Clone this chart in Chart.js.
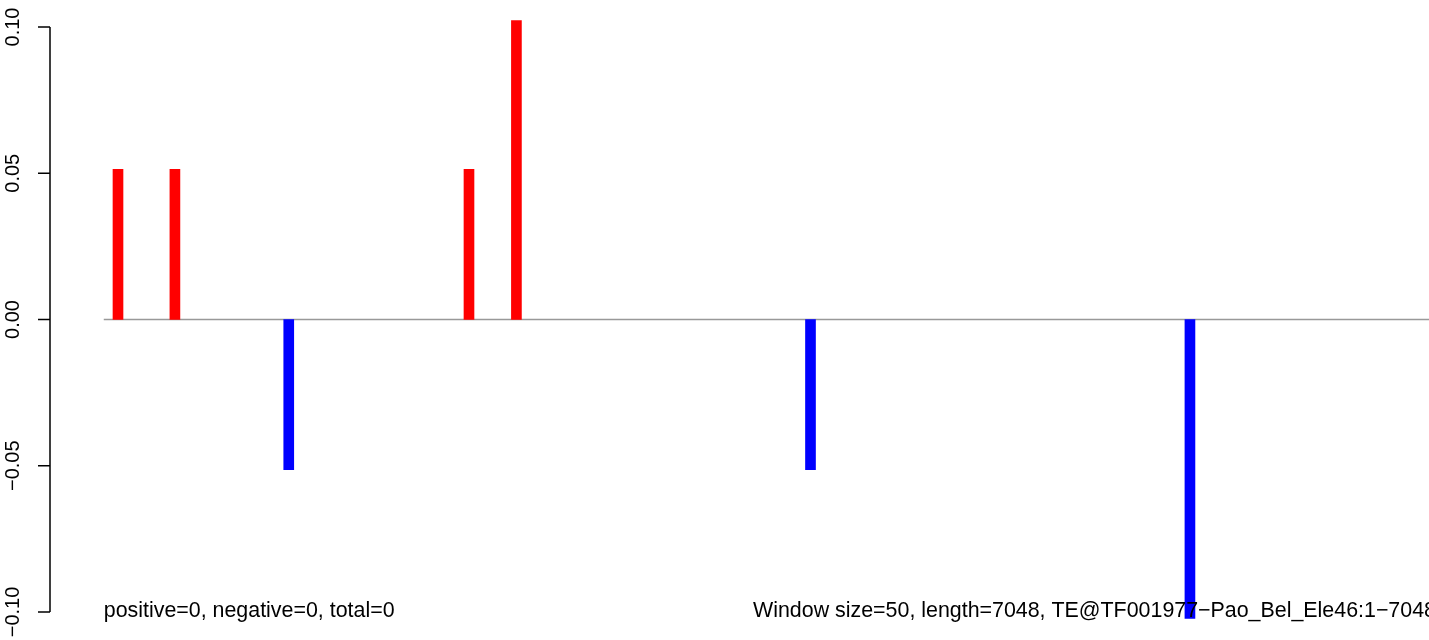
<!DOCTYPE html>
<html>
<head>
<meta charset="utf-8">
<script src="https://cdn.jsdelivr.net/npm/chart.js@4.4.1/dist/chart.umd.min.js"></script>
<style>
  html, body { margin: 0; padding: 0; background: #fff; }
  #wrap { width: 1429px; height: 640px; }
</style>
</head>
<body>
<div id="wrap"><canvas id="chart" width="1429" height="640"></canvas></div>
<script>
// window centres (bp) and values
const posX = [75, 375, 1925, 2175];
const posY = [0.0513, 0.0513, 0.0513, 0.1022];
const negX = [975, 3725, 5725];
const negY = [-0.0513, -0.0513, -0.1022];

const seqLength = 7048;
const yTickValues = [-0.1, -0.05, 0, 0.05, 0.1];
const yTickLabels = ['\u22120.10', '\u22120.05', '0.00', '0.05', '0.10'];

const leftNote = 'positive=0, negative=0, total=0';
const rightNote = 'Window size=50, length=7048, TE@TF001977\u2212Pao_Bel_Ele46:1\u22127048';

const FONT = '"Liberation Sans", Arial, Helvetica, sans-serif';

const rAxis = {
  id: 'rAxis',
  afterDraw(chart) {
    let ctx = chart.ctx;
    let xs = chart.scales.x;
    let ys = chart.scales.y;
    let axX = chart.chartArea.left;
    let top = ys.getPixelForValue(yTickValues[yTickValues.length - 1]);
    let bot = ys.getPixelForValue(yTickValues[0]);
    ctx.save();
    ctx.strokeStyle = '#000';
    ctx.lineWidth = 1.5;
    ctx.beginPath();
    ctx.moveTo(axX, top);
    ctx.lineTo(axX, bot);
    yTickValues.forEach(v => {
      let py = ys.getPixelForValue(v);
      ctx.moveTo(axX - 12, py);
      ctx.lineTo(axX, py);
    });
    ctx.stroke();

    ctx.fillStyle = '#000';
    ctx.font = '20px ' + FONT;
    ctx.textAlign = 'center';
    ctx.textBaseline = 'middle';
    yTickValues.forEach((v, i) => {
      let py = ys.getPixelForValue(v);
      ctx.save();
      ctx.translate(13, py);
      ctx.rotate(-Math.PI / 2);
      ctx.fillText(yTickLabels[i], 0, 0);
      ctx.restore();
    });

    // notes along the bottom, placed at the sequence ends
    ctx.font = '21.4px ' + FONT;
    ctx.textBaseline = 'alphabetic';
    ctx.textAlign = 'left';
    ctx.fillText(leftNote, xs.getPixelForValue(0), 617);
    ctx.textAlign = 'right';
    ctx.fillText(rightNote, xs.getPixelForValue(seqLength) - 5, 617);
    ctx.restore();
  }
};

new Chart(document.getElementById('chart'), {
  type: 'bar',
  data: {
    datasets: [
      {
        type: 'line',
        data: [{ x: 0, y: 0 }, { x: seqLength, y: 0 }],
        borderColor: '#999999',
        borderWidth: 1.5,
        pointRadius: 0,
        clip: false,
        order: 3
      },
      {
        data: posX.map((x, i) => ({ x: x, y: posY[i] })),
        backgroundColor: '#ff0000',
        barThickness: 10,
        grouped: false,
        clip: false,
        order: 1
      },
      {
        data: negX.map((x, i) => ({ x: x, y: negY[i] })),
        backgroundColor: '#0000ff',
        barThickness: 10,
        grouped: false,
        clip: false,
        order: 2
      }
    ]
  },
  options: {
    responsive: false,
    animation: false,
    layout: { padding: { left: 50, top: 27, bottom: 28, right: 0 } },
    plugins: { legend: { display: false }, tooltip: { enabled: false } },
    scales: {
      x: { type: 'linear', display: false, offset: false, min: -283.4, max: 6985 },
      y: { display: false, min: -0.1, max: 0.1 }
    }
  },
  plugins: [rAxis]
});
</script>
</body>
</html>
